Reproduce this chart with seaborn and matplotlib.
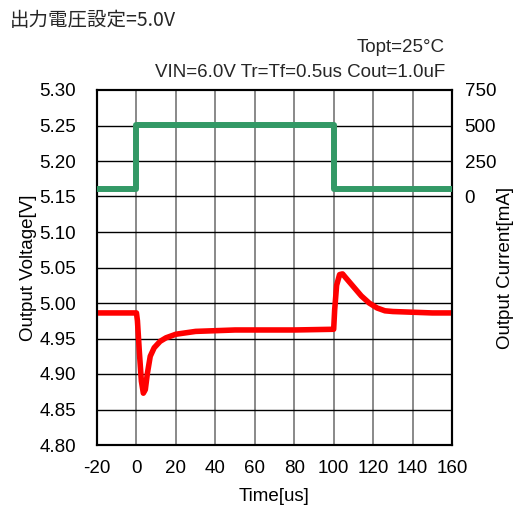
import matplotlib
matplotlib.use("Agg")
import matplotlib.pyplot as plt
import seaborn as sns
import pandas as pd

# ---- data ----
t_v = [-20, 0, 0.5, 1.5, 2.5, 3.5, 4.5, 5.5, 7, 9, 12, 15, 20, 25, 30, 40, 50, 60, 80, 100,
       100.5, 101.5, 103, 104.5, 106, 110, 114, 118, 122, 126, 130, 140, 150, 160]
v_out = [4.986, 4.986, 4.975, 4.93, 4.89, 4.873, 4.878, 4.90, 4.925, 4.937, 4.946, 4.951,
         4.956, 4.958, 4.960, 4.961, 4.962, 4.962, 4.962, 4.963,
         4.99, 5.025, 5.040, 5.041, 5.036, 5.023, 5.010, 5.000, 4.993, 4.989, 4.988, 4.987,
         4.986, 4.986]
t_i = [-20, 0, 0, 100, 100, 160]
i_out = [50, 50, 500, 500, 50, 50]

x_ticks = [-20, 0, 20, 40, 60, 80, 100, 120, 140, 160]
v_ticks = [4.80, 4.85, 4.90, 4.95, 5.00, 5.05, 5.10, 5.15, 5.20, 5.25, 5.30]
i_ticks = [0, 250, 500, 750]

title = "出力電圧設定=5.0V"
cond1 = "Topt=25°C"
cond2 = "VIN=6.0V Tr=Tf=0.5us Cout=1.0uF"

sns.set_theme(style="white")
plt.rcParams["font.family"] = ["Liberation Sans", "Noto Sans CJK JP", "DejaVu Sans"]

fig = plt.figure(figsize=(5.15, 5.08), dpi=100)
ax = fig.add_axes([97/515, 1-445/508, 355/515, 355/508])
ax2 = ax.twinx()

df_v = pd.DataFrame({"t": t_v, "v": v_out})
df_i = pd.DataFrame({"t": t_i, "i": i_out})

for x in x_ticks[1:-1]:
    ax.axvline(x, color="#808080", lw=1.3, zorder=0)
for y in v_ticks[1:-1]:
    ax.axhline(y, color="black", lw=1.0, zorder=0)

sns.lineplot(data=df_v, x="t", y="v", ax=ax, color="#ff0000", lw=4.0,
             sort=False, estimator=None, zorder=3)
sns.lineplot(data=df_i, x="t", y="i", ax=ax2, color="#339966", lw=4.3,
             sort=False, estimator=None, zorder=3)

ax.set_xlim(-20, 160)
ax.set_ylim(4.80, 5.30)
ax2.set_ylim(-1750, 750)
ax.set_xticks(x_ticks)
ax.set_yticks(v_ticks)
ax2.set_yticks(i_ticks)
ax.set_xticklabels([str(x) for x in x_ticks])
ax.set_yticklabels([f"{v:.2f}" for v in v_ticks])
ax2.set_yticklabels([str(i) for i in i_ticks])

fs = 13.5
ax.tick_params(axis="both", length=0, labelsize=fs, colors="black")
ax.tick_params(axis="y", pad=15)
ax.tick_params(axis="x", pad=11)
ax2.tick_params(axis="y", length=0, labelsize=fs, pad=9, colors="black")

ax.set_xlabel("Time[us]", fontsize=fs, labelpad=8, color="black")
ax.set_ylabel("Output Voltage[V]", fontsize=fs, labelpad=2, color="black")
ax2.set_ylabel("Output Current[mA]", fontsize=fs, labelpad=1, color="black")

for a in (ax, ax2):
    for s in a.spines.values():
        s.set_color("black")
        s.set_linewidth(1.5)
ax.grid(False)
ax2.grid(False)

fig.text(10/515, 1-26/508, title, fontsize=14, family=["Noto Sans CJK JP", "DejaVu Sans"],
         ha="left", va="baseline")
fig.text(445/515, 1-52/508, cond1, fontsize=fs, ha="right", va="baseline")
fig.text(445/515, 1-77/508, cond2, fontsize=fs, ha="right", va="baseline")

fig.savefig("out.png", dpi=100)
